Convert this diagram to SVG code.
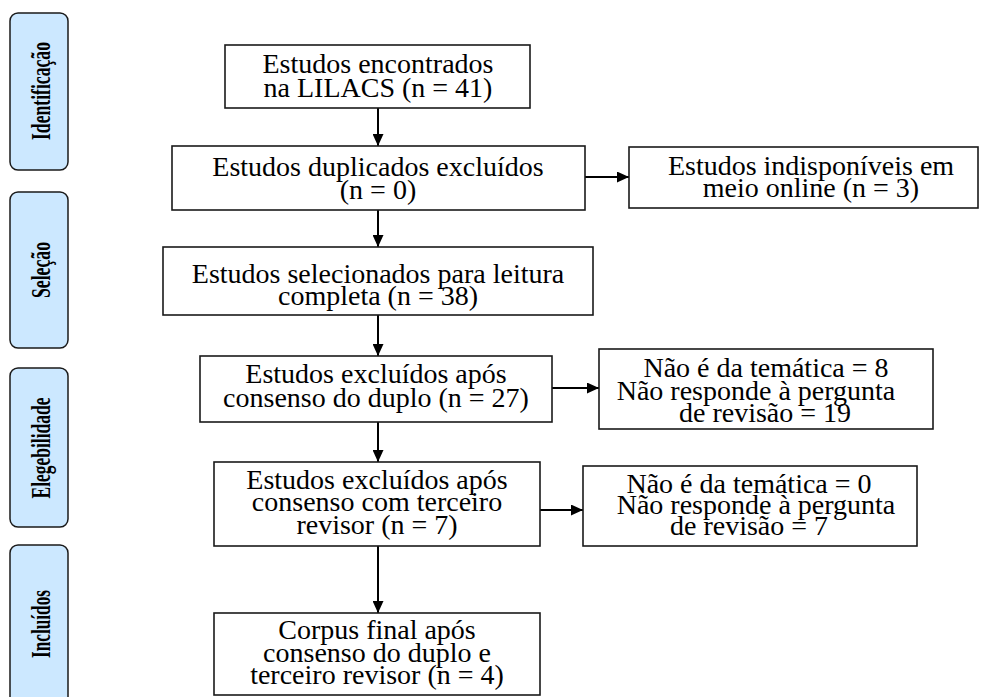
<svg xmlns="http://www.w3.org/2000/svg" width="987" height="697" viewBox="0 0 987 697">
<style>
.bg{fill:#ffffff}
.phase{fill:#cce8ff;stroke:#1a1a1a;stroke-width:1.5}
.box{fill:#ffffff;stroke:#1a1a1a;stroke-width:1.6}
.lbl{font-family:"Liberation Serif","Times New Roman",serif;font-weight:bold;font-size:27px;fill:#000;text-anchor:middle}
.t{font-family:"Liberation Serif","Times New Roman",serif;font-size:28px;fill:#000;text-anchor:middle}
.conn{stroke:#000;stroke-width:2;fill:none;marker-end:url(#ah)}
</style>
<defs>
<marker id="ah" markerUnits="userSpaceOnUse" markerWidth="13" markerHeight="11" refX="12" refY="5.5" orient="auto">
<path d="M0,0 L12,5.5 L0,11 z" fill="#000"/>
</marker>
</defs>
<rect class="bg" x="0" y="0" width="987" height="697"/>

<g id="phase-identificacao">
<rect class="phase" x="10" y="13" width="58" height="157" rx="8"/>
<text class="lbl" transform="translate(50,91) rotate(-90)" textLength="98" lengthAdjust="spacingAndGlyphs">Identificação</text>
</g>
<g id="phase-selecao">
<rect class="phase" x="10" y="192" width="58" height="156" rx="8"/>
<text class="lbl" transform="translate(50,270) rotate(-90)" textLength="56" lengthAdjust="spacingAndGlyphs">Seleção</text>
</g>
<g id="phase-elegebilidade">
<rect class="phase" x="10" y="368" width="58" height="159" rx="8"/>
<text class="lbl" transform="translate(50,448) rotate(-90)" textLength="101" lengthAdjust="spacingAndGlyphs">Elegebilidade</text>
</g>
<g id="phase-incluidos">
<rect class="phase" x="10" y="545" width="58" height="170" rx="8"/>
<text class="lbl" transform="translate(50,624) rotate(-90)" textLength="68" lengthAdjust="spacingAndGlyphs">Incluídos</text>
</g>

<g id="connectors">
<line class="conn" x1="378" y1="108" x2="378" y2="146"/>
<line class="conn" x1="378" y1="210" x2="378" y2="247"/>
<line class="conn" x1="378" y1="315" x2="378" y2="356"/>
<line class="conn" x1="378" y1="422" x2="378" y2="462"/>
<line class="conn" x1="378" y1="546" x2="378" y2="613"/>
<line class="conn" x1="585" y1="177" x2="629" y2="177"/>
<line class="conn" x1="552" y1="388" x2="599" y2="388"/>
<line class="conn" x1="540" y1="510" x2="583" y2="510"/>
</g>

<g id="box-encontrados">
<rect class="box" x="225" y="45" width="305" height="63"/>
<text class="t" x="378" y="73">Estudos encontrados</text>
<text class="t" x="378" y="97">na LILACS (n = 41)</text>
</g>
<g id="box-duplicados">
<rect class="box" x="172" y="146" width="413" height="64"/>
<text class="t" x="378" y="176">Estudos duplicados excluídos</text>
<text class="t" x="378" y="199">(n = 0)</text>
</g>
<g id="box-indisponiveis">
<rect class="box" x="629" y="147" width="349" height="61"/>
<text class="t" x="811" y="175">Estudos indisponíveis em</text>
<text class="t" x="811" y="197">meio online (n = 3)</text>
</g>
<g id="box-selecionados">
<rect class="box" x="163" y="247" width="430" height="68"/>
<text class="t" x="378" y="283">Estudos selecionados para leitura</text>
<text class="t" x="378" y="305">completa (n = 38)</text>
</g>
<g id="box-excluidos-duplo">
<rect class="box" x="200" y="356" width="352" height="66"/>
<text class="t" x="376" y="383">Estudos excluídos após</text>
<text class="t" x="376" y="407">consenso do duplo (n = 27)</text>
</g>
<g id="box-motivos-duplo">
<rect class="box" x="599" y="349" width="334" height="80"/>
<text class="t" x="766" y="377">Não é da temática = 8</text>
<text class="t" x="756" y="400">Não responde à pergunta</text>
<text class="t" x="765" y="422">de revisão = 19</text>
</g>
<g id="box-excluidos-terceiro">
<rect class="box" x="214" y="462" width="326" height="84"/>
<text class="t" x="377" y="489">Estudos excluídos após</text>
<text class="t" x="377" y="511">consenso com terceiro</text>
<text class="t" x="377" y="534">revisor (n = 7)</text>
</g>
<g id="box-motivos-terceiro">
<rect class="box" x="583" y="466" width="334" height="80"/>
<text class="t" x="749" y="493">Não é da temática = 0</text>
<text class="t" x="756" y="514">Não responde à pergunta</text>
<text class="t" x="749" y="535">de revisão = 7</text>
</g>
<g id="box-corpus-final">
<rect class="box" x="214" y="613" width="326" height="82"/>
<text class="t" x="377" y="639">Corpus final após</text>
<text class="t" x="377" y="662">consenso do duplo e</text>
<text class="t" x="377" y="684">terceiro revisor (n = 4)</text>
</g>
</svg>
